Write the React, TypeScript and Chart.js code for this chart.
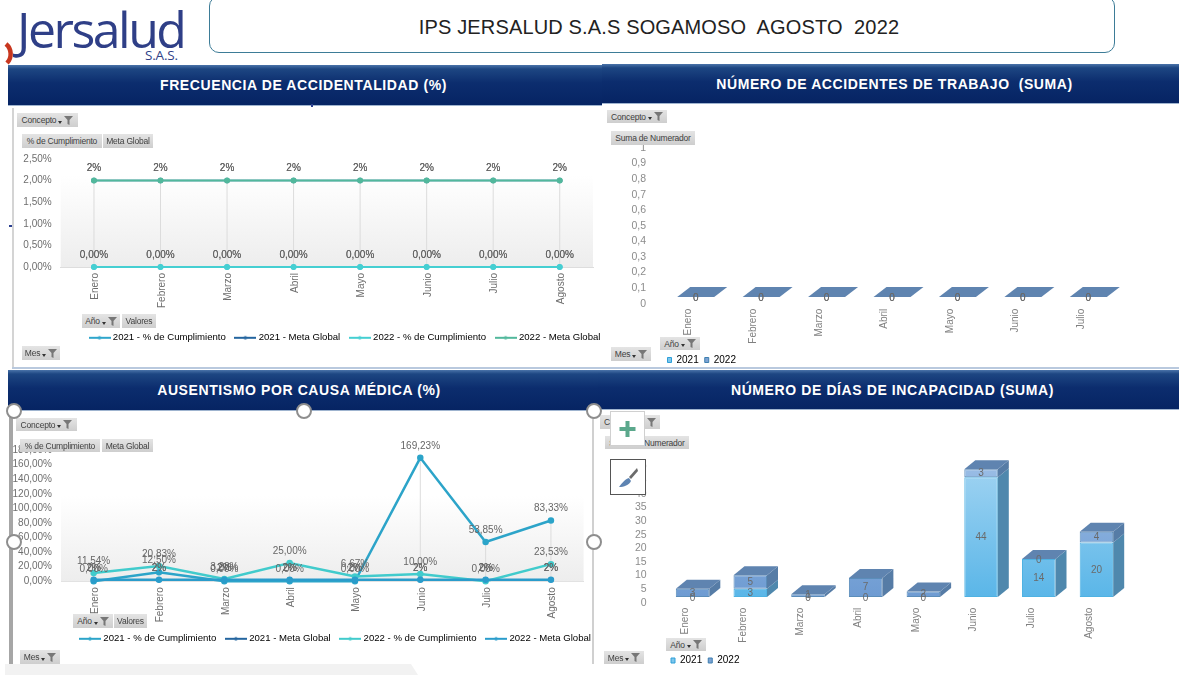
import React, { useEffect, useRef } from "react";
import { Chart, registerables } from "chart.js";

Chart.register(...registerables);

const MONTHS_8 = ["Enero", "Febrero", "Marzo", "Abril", "Mayo", "Junio", "Julio", "Agosto"];
const MONTHS_7 = ["Enero", "Febrero", "Marzo", "Abril", "Mayo", "Junio", "Julio"];

const FREQ_2021_CUMPL = [0, 0, 0, 0, 0, 0, 0, 0];
const FREQ_2021_META = [2, 2, 2, 2, 2, 2, 2, 2];
const FREQ_2022_CUMPL = [0, 0, 0, 0, 0, 0, 0, 0];
const FREQ_2022_META = [2, 2, 2, 2, 2, 2, 2, 2];

const AUS_2021_CUMPL = [0, 12.5, 0, 0, 0, 169.23, 53.85, 83.33];
const AUS_2021_META = [2, 2, 2, 2, 2, 2, 2, 2];
const AUS_2022_CUMPL = [11.54, 20.83, 3.28, 25, 6.67, 10, 0, 23.53];
const AUS_2022_META = [2, 2, 2, 2, 2, 2, 2, 2];

const ACC_2021 = [0, 0, 0, 0, 0, 0, 0];
const ACC_2022 = [0, 0, 0, 0, 0, 0, 0];

const INC_2021 = [0, 3, 0, 0, 0, 44, 14, 20];
const INC_2022 = [3, 5, 1, 7, 2, 3, 0, 4];

const LINE_SERIES_NAMES = [
  "2021 - % de Cumplimiento",
  "2021 - Meta Global",
  "2022 - % de Cumplimiento",
  "2022 - Meta Global",
];
const FONT = "'Liberation Sans', Arial, sans-serif";

type Box = { x: number; y: number; w: number; h: number };
type Plot = { left: number; right: number; top: number; bottom: number };

const es = (v: number, d: number) => v.toFixed(d).replace(".", ",");

function legendIcon(color: string) {
  const c = document.createElement("canvas");
  c.width = 22;
  c.height = 6;
  const g = c.getContext("2d")!;
  g.strokeStyle = color;
  g.lineWidth = 2;
  g.beginPath();
  g.moveTo(0, 3);
  g.lineTo(22, 3);
  g.stroke();
  g.fillStyle = color;
  g.beginPath();
  g.arc(11, 3, 1.8, 0, Math.PI * 2);
  g.fill();
  return c;
}

function placeLegend(box: Box, lx: number, ly: number, padding: number) {
  return {
    id: "placeLegend",
    afterLayout(chart: any) {
      const l = chart.legend;
      l.left = lx - box.x - padding;
      l.right = box.w + 200;
      l.top = ly - box.y - padding - 4;
      l.bottom = l.top + padding + 24;
    },
  };
}

function scaleSizing(box: Box, plot: Plot) {
  return {
    layout: {
      padding: { left: 0, right: box.x + box.w - plot.right, top: plot.top - box.y, bottom: 0 },
    },
    yFit: (s: any) => {
      s.width = plot.left - box.x;
    },
    xFit: (s: any) => {
      s.height = box.y + box.h - plot.bottom - 1;
    },
  };
}

function makeLine(
  canvas: HTMLCanvasElement,
  box: Box,
  plot: Plot,
  labels: string[],
  series: { data: number[]; color: string; width: number; decimals: number }[],
  yMax: number,
  yStep: number,
  fadeFrom: number,
  legendPos: [number, number]
) {
  const sz = scaleSizing(box, plot);
  const backdrop = {
    id: "backdrop",
    beforeDatasetsDraw(chart: any) {
      const { ctx, chartArea: a } = chart;
      const g = ctx.createLinearGradient(0, a.top, 0, a.bottom);
      g.addColorStop(0, "#ffffff");
      g.addColorStop(fadeFrom, "#ffffff");
      g.addColorStop(1, "#ededed");
      ctx.save();
      ctx.fillStyle = g;
      ctx.fillRect(a.left, a.top, a.right - a.left, a.bottom - a.top);
      ctx.strokeStyle = "#dcdcdc";
      ctx.lineWidth = 1;
      const metas = chart.getSortedVisibleDatasetMetas();
      labels.forEach((_, i) => {
        const ys = metas.map((m: any) => m.data[i].y);
        const x = metas[0].data[i].x;
        ctx.beginPath();
        ctx.moveTo(x, Math.min(...ys));
        ctx.lineTo(x, a.bottom);
        ctx.stroke();
      });
      ctx.restore();
    },
  };
  const pointLabels = {
    id: "pointLabels",
    afterDatasetsDraw(chart: any) {
      const { ctx } = chart;
      ctx.save();
      ctx.font = `10px ${FONT}`;
      ctx.fillStyle = "#666666";
      ctx.textAlign = "center";
      ctx.textBaseline = "middle";
      series.forEach((s, di) => {
        chart.getDatasetMeta(di).data.forEach((pt: any, i: number) => {
          ctx.fillText(`${es(s.data[i], s.decimals)}%`, pt.x, pt.y - 12);
        });
      });
      ctx.restore();
    },
  };
  return new Chart(canvas, {
    type: "line",
    data: {
      labels,
      datasets: series.map((s, i) => ({
        label: LINE_SERIES_NAMES[i],
        data: s.data,
        borderColor: s.color,
        backgroundColor: s.color,
        borderWidth: s.width,
        pointRadius: 2,
        pointBackgroundColor: s.color,
        pointBorderColor: s.color,
        tension: 0,
        clip: false,
        order: 4 - i,
      })),
    },
    options: {
      responsive: false,
      animation: false,
      layout: sz.layout,
      plugins: {
        tooltip: { enabled: false },
        title: { display: false },
        legend: {
          position: "bottom",
          align: "start",
          maxHeight: 1,
          labels: {
            usePointStyle: true,
            pointStyleWidth: 17,
            padding: 11,
            color: "#666666",
            font: { size: 9.6, family: FONT },
            generateLabels: () =>
              series.map((s, i) => ({
                text: LINE_SERIES_NAMES[i],
                pointStyle: legendIcon(s.color),
                fillStyle: s.color,
                strokeStyle: s.color,
                datasetIndex: i,
                hidden: false,
              })),
          },
        },
      },
      scales: {
        x: {
          offset: true,
          afterFit: sz.xFit,
          grid: { display: false, drawTicks: false },
          border: { color: "#dddddd" },
          ticks: {
            autoSkip: false,
            minRotation: 90,
            maxRotation: 90,
            padding: 6,
            labelOffset: 1.5,
            color: "#6e6e6e",
            font: { size: 10, family: FONT },
          },
        },
        y: {
          min: 0,
          max: yMax,
          afterFit: sz.yFit,
          grid: { display: false, drawTicks: false },
          border: { display: false },
          ticks: {
            autoSkip: false,
            stepSize: yStep,
            padding: 9,
            color: "#6e6e6e",
            font: { size: 10, family: FONT },
            callback: (v: any) => `${es(Number(v), 2)}%`,
          },
        },
      },
    } as any,
    plugins: [backdrop, pointLabels, placeLegend(box, legendPos[0], legendPos[1], 11)] as any,
  });
}

function makeBars(
  canvas: HTMLCanvasElement,
  box: Box,
  plot: Plot,
  labels: string[],
  values: number[][],
  yMax: number,
  yStep: number,
  geom: { barW: number; dx: number; dy: number; sx: number; sy: number },
  legendPos: [number, number],
  yFormat: (v: number) => string
) {
  const sz = scaleSizing(box, plot);
  const spacing = (plot.right - plot.left) / labels.length;
  const front = [
    ["#A2D4F2", "#5AB6E8", "#4FB2E2"],
    ["#9BBEE6", "#6E9BD2", "#5B8DBA"],
  ];
  const side = ["#4F88AD", "#567CA6"];
  const topFace = "#5F84B0";
  const depth = {
    id: "depth",
    beforeDatasetsDraw(chart: any) {
      chart.ctx.save();
      chart.ctx.translate(geom.sx, geom.sy);
    },
    afterDatasetsDraw(chart: any) {
      const { ctx } = chart;
      const { dx, dy } = geom;
      const poly = (pts: number[][], fill: string) => {
        ctx.fillStyle = fill;
        ctx.beginPath();
        pts.forEach(([x, y], i) => (i ? ctx.lineTo(x, y) : ctx.moveTo(x, y)));
        ctx.closePath();
        ctx.fill();
      };
      labels.forEach((_, i) => {
        let top = Infinity;
        let el: any = null;
        values.forEach((_v, di) => {
          const e: any = chart.getDatasetMeta(di).data[i];
          const r = e.x + e.width / 2;
          if (e.base - e.y > 0.5) {
            poly([[r, e.y], [r + dx, e.y - dy], [r + dx, e.base - dy], [r, e.base]], side[di]);
          }
          if (e.y <= top) {
            top = e.y;
            el = e;
          }
        });
        const l = el.x - el.width / 2;
        const r = el.x + el.width / 2;
        poly([[l, top], [l + dx, top - dy], [r + dx, top - dy], [r, top]], topFace);
      });
      ctx.font = `10px ${FONT}`;
      ctx.fillStyle = "#6a6a6a";
      ctx.textAlign = "center";
      ctx.textBaseline = "middle";
      values.forEach((vals, di) => {
        chart.getDatasetMeta(di).data.forEach((e: any, i: number) => {
          ctx.fillText(String(vals[i]), e.x, (e.y + e.base) / 2 + (vals[i] === 0 ? 1 : 0));
        });
      });
      ctx.restore();
    },
  };
  return new Chart(canvas, {
    type: "bar",
    data: {
      labels,
      datasets: values.map((d, di) => ({
        label: di === 0 ? "2021" : "2022",
        data: d,
        backgroundColor: (c: any) => {
          const g = c.chart.ctx.createLinearGradient(0, plot.top - box.y, 0, plot.bottom - box.y);
          g.addColorStop(0, front[di][0]);
          g.addColorStop(1, front[di][1]);
          return g;
        },
        borderColor: front[di][2],
        borderWidth: 1,
        borderSkipped: false,
        barPercentage: geom.barW / spacing,
        categoryPercentage: 1,
        clip: false,
      })),
    },
    options: {
      responsive: false,
      animation: false,
      layout: sz.layout,
      plugins: {
        tooltip: { enabled: false },
        title: { display: false },
        legend: {
          position: "bottom",
          align: "start",
          maxHeight: 1,
          labels: {
            boxWidth: 4,
            boxHeight: 5,
            padding: 6,
            color: "#7d7d7d",
            font: { size: 10, family: FONT },
            generateLabels: () =>
              ["2021", "2022"].map((t, i) => ({
                text: t,
                fillStyle: i === 0 ? "#7CC6EC" : "#7CA3D4",
                strokeStyle: i === 0 ? "#2E9FD8" : "#3E7FAF",
                lineWidth: 1,
                datasetIndex: i,
                hidden: false,
              })),
          },
        },
      },
      scales: {
        x: {
          stacked: true,
          offset: true,
          afterFit: sz.xFit,
          grid: { display: false, drawTicks: false },
          border: { display: false },
          ticks: {
            autoSkip: false,
            minRotation: 90,
            maxRotation: 90,
            padding: 5,
            labelOffset: 1.5,
            color: "#808080",
            font: { size: 10, family: FONT },
          },
        },
        y: {
          stacked: true,
          min: 0,
          max: yMax,
          afterFit: sz.yFit,
          grid: { display: false, drawTicks: false },
          border: { display: false },
          ticks: {
            autoSkip: false,
            stepSize: yStep,
            padding: 8,
            color: "#8c8c8c",
            font: { size: 10.5, family: FONT },
            callback: (v: any) => yFormat(Number(v)),
          },
        },
      },
    } as any,
    plugins: [depth, placeLegend(box, legendPos[0], legendPos[1], 6)] as any,
  });
}

const abs = (x: number, y: number, w: number, h: number): React.CSSProperties => ({
  position: "absolute",
  left: x,
  top: y,
  width: w,
  height: h,
});

function Funnel() {
  return (
    <svg width="15" height="9" viewBox="0 0 15 9" style={{ marginLeft: 2 }}>
      <path d="M0 5 L4 5 L2 8 Z" fill="#333" />
      <path d="M6 0 L15 0 L11.5 4 L11.5 9 L9.5 8 L9.5 4 Z" fill="#777" />
    </svg>
  );
}

function Btn({ x, y, w, h = 14, text, filter }: { x: number; y: number; w: number; h?: number; text: string; filter?: boolean }) {
  return (
    <div
      style={{
        ...abs(x, y, w, h),
        background: "linear-gradient(#e4e4e4, #cecece)",
        color: "#404040",
        fontFamily: FONT,
        fontSize: 8.5,
        letterSpacing: -0.2,
        display: "flex",
        alignItems: "center",
        justifyContent: "center",
        whiteSpace: "nowrap",
        overflow: "hidden",
        zIndex: 3,
      }}
    >
      {text}
      {filter ? <Funnel /> : null}
    </div>
  );
}

function Header({ x, y, w, h, text, shift }: { x: number; y: number; w: number; h: number; text: string; shift: number }) {
  return (
    <div
      style={{
        ...abs(x, y, w, h),
        background: "linear-gradient(#4a73a9 0%, #1d4682 10%, #0c2d6e 45%, #062463 100%)",
        borderBottom: "1px solid #9fb4cf",
        color: "#ffffff",
        fontFamily: FONT,
        fontWeight: 700,
        fontSize: 14,
        letterSpacing: 0.6,
        display: "flex",
        alignItems: "center",
        justifyContent: "center",
        whiteSpace: "pre",
        boxSizing: "border-box",
        paddingLeft: shift > 0 ? shift : 0,
        paddingRight: shift < 0 ? -shift : 0,
        zIndex: 2,
      }}
    >
      {text}
    </div>
  );
}

function Handle({ x, y }: { x: number; y: number }) {
  return (
    <div
      style={{
        ...abs(x - 8, y - 8, 16, 16),
        borderRadius: "50%",
        background: "#ffffff",
        border: "2.5px solid #8e8e8e",
        boxSizing: "border-box",
        zIndex: 5,
      }}
    />
  );
}

const BOX_FREQ: Box = { x: 13, y: 108, w: 587, h: 262 };
const PLOT_FREQ: Plot = { left: 60.7, right: 593, top: 159, bottom: 267 };
const BOX_ACC: Box = { x: 603, y: 106, w: 576, h: 262 };
const PLOT_ACC: Plot = { left: 654, right: 1112, top: 148, bottom: 303.7 };
const BOX_AUS: Box = { x: 12, y: 412, w: 580, h: 252 };
const PLOT_AUS: Plot = { left: 61, right: 583.6, top: 450, bottom: 581.3 };
const BOX_INC: Box = { x: 600, y: 410, w: 579, h: 254 };
const PLOT_INC: Plot = { left: 654.7, right: 1116.3, top: 466.7, bottom: 602.7 };

export default function App() {
  const c1 = useRef<HTMLCanvasElement>(null);
  const c2 = useRef<HTMLCanvasElement>(null);
  const c3 = useRef<HTMLCanvasElement>(null);
  const c4 = useRef<HTMLCanvasElement>(null);

  useEffect(() => {
    const charts = [
      makeLine(
        c1.current!,
        BOX_FREQ,
        PLOT_FREQ,
        MONTHS_8,
        [
          { data: FREQ_2021_CUMPL, color: "#2FA6CC", width: 1.5, decimals: 2 },
          { data: FREQ_2021_META, color: "#24659F", width: 1.5, decimals: 0 },
          { data: FREQ_2022_CUMPL, color: "#45CFD2", width: 2, decimals: 2 },
          { data: FREQ_2022_META, color: "#52B89C", width: 2, decimals: 0 },
        ],
        2.5,
        0.5,
        0.15,
        [91, 337]
      ),
      makeBars(
        c2.current!,
        BOX_ACC,
        PLOT_ACC,
        MONTHS_7,
        [ACC_2021, ACC_2022],
        1,
        0.1,
        { barW: 37, dx: 13, dy: 10, sx: 9, sy: -6.7 },
        [667.5, 359],
        (v) => (v === 0 || v === 1 ? String(v) : es(v, 1))
      ),
      makeLine(
        c3.current!,
        BOX_AUS,
        PLOT_AUS,
        MONTHS_8,
        [
          { data: AUS_2021_CUMPL, color: "#2CA4C9", width: 2.5, decimals: 2 },
          { data: AUS_2021_META, color: "#24659F", width: 1.5, decimals: 0 },
          { data: AUS_2022_CUMPL, color: "#41CBCC", width: 2.5, decimals: 2 },
          { data: AUS_2022_META, color: "#2A9CCB", width: 2.5, decimals: 0 },
        ],
        180,
        20,
        0.35,
        [81.5, 638]
      ),
      makeBars(
        c4.current!,
        BOX_INC,
        PLOT_INC,
        MONTHS_8,
        [INC_2021, INC_2022],
        50,
        5,
        { barW: 33.5, dx: 11, dy: 9, sx: 9, sy: -5.7 },
        [671, 659.5],
        (v) => String(v)
      ),
    ];
    return () => charts.forEach((c) => c.destroy());
  }, []);

  const cv = (b: Box): React.CSSProperties => ({ position: "absolute", left: b.x, top: b.y, zIndex: 1 });

  return (
    <div style={{ position: "absolute", left: 0, top: 0, width: 1179, height: 698, overflow: "hidden", background: "#fff", filter: "blur(0.45px)" }}>
      {/* logo */}
      <svg style={{ ...abs(0, 38, 20, 30), zIndex: 1 }} viewBox="0 0 20 30">
        <path d="M6 6 A 13 13 0 0 1 7 25" stroke="#C8371F" strokeWidth="4.5" fill="none" />
      </svg>
      <div style={{ ...abs(17, 0, 175, 56), fontFamily: "'Open Sans', sans-serif", fontSize: 50, letterSpacing: -2.5, color: "#2F3F87", lineHeight: "58px", whiteSpace: "nowrap" }}>
        Jersalud
      </div>
      <div style={{ ...abs(145, 48, 40, 15), fontFamily: "'Open Sans', sans-serif", fontSize: 13.5, letterSpacing: -0.2, color: "#2F3F87", lineHeight: "15px" }}>
        S.A.S.
      </div>

      {/* title */}
      <div
        style={{
          ...abs(209, -4, 906, 57),
          boxSizing: "border-box",
          border: "1px solid #3D7C97",
          borderRadius: 10,
          display: "flex",
          alignItems: "center",
          justifyContent: "center",
          paddingTop: 6,
          paddingRight: 6,
          fontFamily: FONT,
          fontSize: 20,
          letterSpacing: 0.15,
          color: "#222222",
          whiteSpace: "pre",
        }}
      >
        IPS JERSALUD S.A.S SOGAMOSO  AGOSTO  2022
      </div>

      <Header x={8} y={65} w={594} h={41} shift={-3} text="FRECUENCIA DE ACCIDENTALIDAD (%)" />
      <Header x={602} y={64} w={577} h={40} shift={8} text="NÚMERO DE ACCIDENTES DE TRABAJO  (SUMA)" />
      <Header x={8} y={370} w={590} h={41} shift={-8} text="AUSENTISMO POR CAUSA MÉDICA (%)" />
      <Header x={598} y={370} w={581} h={40} shift={8} text="NÚMERO DE DÍAS DE INCAPACIDAD (SUMA)" />

      {/* panel frames */}
      <div style={{ ...abs(12, 108, 2, 260), background: "#d4d4d4" }} />
      <div style={{ ...abs(12, 367, 1167, 1.5), background: "#b9c9de", zIndex: 2 }} />
      <div style={{ ...abs(9, 411, 4, 253), background: "#a6a6a6", zIndex: 2 }} />
      <div style={{ ...abs(592, 411, 2, 253), background: "#d0d0d0", zIndex: 2 }} />
      <div style={{ ...abs(9, 225, 3, 2), background: "#2b3f8f" }} />
      <div style={{ ...abs(311, 104, 2, 3), background: "#2b3f8f", zIndex: 3 }} />

      <canvas ref={c1} width={BOX_FREQ.w} height={BOX_FREQ.h} style={cv(BOX_FREQ)} />
      <canvas ref={c2} width={BOX_ACC.w} height={BOX_ACC.h} style={cv(BOX_ACC)} />
      <canvas ref={c3} width={BOX_AUS.w} height={BOX_AUS.h} style={cv(BOX_AUS)} />
      <canvas ref={c4} width={BOX_INC.w} height={BOX_INC.h} style={cv(BOX_INC)} />

      {/* pivot buttons, panel 1 */}
      <Btn x={17} y={113} w={61} text="Concepto" filter />
      <Btn x={22} y={134} w={80} text="% de Cumplimiento" />
      <Btn x={103} y={134} w={50} text="Meta Global" />
      <Btn x={82} y={314} w={38} text="Año" filter />
      <Btn x={122} y={314} w={34} text="Valores" />
      <Btn x={22} y={346} w={38} text="Mes" filter />

      {/* panel 2 */}
      <Btn x={607} y={110} w={60} h={13} text="Concepto" filter />
      <Btn x={611} y={131} w={84} text="Suma de Numerador" />
      <Btn x={660} y={337} w={40} h={13} text="Año" filter />
      <Btn x={611} y={347} w={40} text="Mes" filter />

      {/* panel 3 */}
      <Btn x={16} y={418} w={61} h={13} text="Concepto" filter />
      <Btn x={20} y={439} w={80} h={13} text="% de Cumplimiento" />
      <Btn x={102} y={439} w={51} h={13} text="Meta Global" />
      <Btn x={73} y={614} w={40} text="Año" filter />
      <Btn x={114} y={614} w={33} text="Valores" />
      <Btn x={20} y={650} w={40} text="Mes" filter />

      {/* panel 4 */}
      <Btn x={600} y={415} w={60} text="Concepto" filter />
      <Btn x={605} y={436} w={84} h={13} text="Suma de Numerador" />
      <Btn x={666} y={638} w={40} h={13} text="Año" filter />
      <Btn x={604} y={651} w={40} h={13} text="Mes" filter />

      {/* chart editing tools */}
      <div style={{ ...abs(610, 411, 35, 35), boxSizing: "border-box", background: "#fff", border: "1px solid #d0d0d0", zIndex: 6 }}>
        <svg width="33" height="33" viewBox="0 0 33 33">
          <path d="M14.5 9 h4 v6 h6 v4 h-6 v6 h-4 v-6 h-6 v-4 h6 Z" fill="#5BA88C" />
        </svg>
      </div>
      <div style={{ ...abs(610, 459, 36, 36), boxSizing: "border-box", background: "#fff", border: "1px solid #555", zIndex: 6 }}>
        <svg width="34" height="34" viewBox="0 0 34 34">
          <path d="M26 8 L18 17 L20 19 L27 11 Z" fill="#6b6b6b" />
          <path d="M18 18 C 14 19 11 23 8 27 C 13 27 18 25 20 21 Z" fill="#5E84B2" />
        </svg>
      </div>

      <Handle x={14} y={411} />
      <Handle x={304} y={411} />
      <Handle x={594} y={411} />
      <Handle x={14} y={542} />
      <Handle x={594} y={542} />

      {/* bottom strip */}
      <svg style={{ ...abs(0, 664, 430, 14), zIndex: 4 }} viewBox="0 0 430 14">
        <path d="M5 0 L411 0 L418 11 L5 11 Z" fill="#f2f2f2" />
      </svg>
    </div>
  );
}
